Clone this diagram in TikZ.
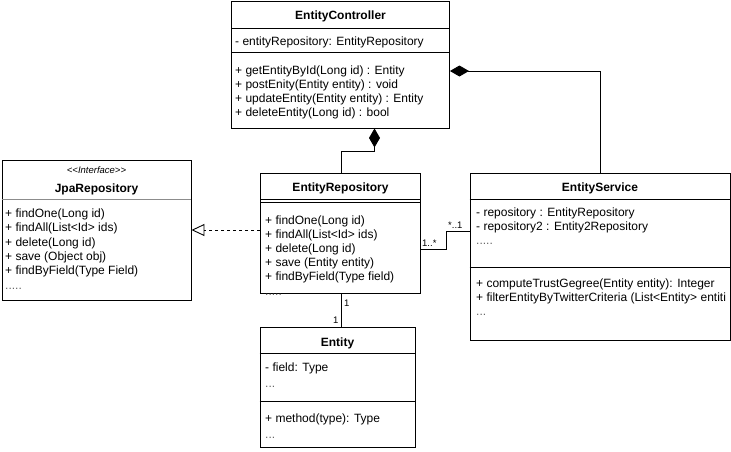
\documentclass[tikz,border=0pt]{standalone}
\usepackage{fontspec}
\setmainfont{Liberation Sans}
\usetikzlibrary{arrows.meta,calc}
\tikzset{
  box/.style={draw, line width=0.9pt, inner sep=0pt, fill=white},
  txt/.style={anchor=base west, inner sep=0pt, font=\fontsize{12}{14}\selectfont},
  ttl/.style={anchor=base, inner sep=0pt, font=\fontsize{12}{14}\selectfont\bfseries},
  dots/.style={txt, text=black!60},
  conn/.style={line width=0.9pt},
  comp/.style={conn, -{Diamond[length=19pt,width=11pt]}},
  real/.style={conn, dash pattern=on 3pt off 3pt, -{Triangle[open,length=13pt,width=12pt,line width=0.9pt]}},
  lbl/.style={inner sep=0pt, font=\fontsize{9.5}{10}\selectfont}
}
\begin{document}
\begin{tikzpicture}[x=1pt,y=-1pt]
\useasboundingbox (0,0) rectangle (731,451);
% boxes
\node[box, minimum width=218, minimum height=127] (ctrl) at (340.5,64.5) {};
\node[box, minimum width=189, minimum height=140] (jpa) at (96.5,230) {};
\node[box, minimum width=160, minimum height=120] (repo) at (340.5,233) {};
\node[box, minimum width=260, minimum height=167] (serv) at (600,256.5) {};
\node[box, minimum width=155, minimum height=120] (ent) at (337.5,387) {};
% separators
\draw[conn] (ctrl.west |- 0,28) -- (ctrl.east |- 0,28);
\draw[conn] (ctrl.west |- 0,52) -- (ctrl.east |- 0,52);
\draw[conn, black!45] (jpa.west |- 0,199) -- (jpa.east |- 0,199);
\draw[conn] (repo.west |- 0,199) -- (repo.east |- 0,199);
\draw[conn] (repo.west |- 0,202.5) -- (repo.east |- 0,202.5);
\draw[conn] (serv.west |- 0,199) -- (serv.east |- 0,199);
\draw[conn] (serv.west |- 0,267) -- (serv.east |- 0,267);
\draw[conn] (ent.west |- 0,353) -- (ent.east |- 0,353);
\draw[conn] (ent.west |- 0,401) -- (ent.east |- 0,401);
% EntityController
\node[ttl] (ctrlT) at (340.5,19) {EntityController};
\node[txt] (ctrlA) at (235,45) {- entityRepository: EntityRepository};
\node[txt] (ctrlM1) at (235,74) {+ getEntityById(Long id) : Entity};
\node[txt] (ctrlM2) at (235,88) {+ postEnity(Entity entity) : void};
\node[txt] (ctrlM3) at (235,102) {+ updateEntity(Entity entity) : Entity};
\node[txt] (ctrlM4) at (235,116) {+ deleteEntity(Long id) : bool};
% JpaRepository
\node[anchor=base, inner sep=0pt, font=\fontsize{9.5}{10}\selectfont\itshape] (jpaS) at (96.5,173.5) {<{}<Interface>{}>};
\node[ttl] (jpaT) at (96.5,192) {JpaRepository};
\node[txt] (jpaM1) at (5,217) {+ findOne(Long id)};
\node[txt] (jpaM2) at (5,231) {+ findAll(List<Id> ids)};
\node[txt] (jpaM3) at (5,246) {+ delete(Long id)};
\node[txt] (jpaM4) at (5,260) {+ save (Object obj)};
\node[txt] (jpaM5) at (5,274) {+ findByField(Type Field)};
\node[dots] (jpaD) at (5,289) {.....};
% EntityRepository
\node[ttl] (repoT) at (340.5,191) {EntityRepository};
\node[txt] (repoM1) at (265,224) {+ findOne(Long id)};
\node[txt] (repoM2) at (265,238) {+ findAll(List<Id> ids)};
\node[txt] (repoM3) at (265,252) {+ delete(Long id)};
\node[txt] (repoM4) at (265,266) {+ save (Entity entity)};
\node[txt] (repoM5) at (265,280) {+ findByField(Type field)};
\node[dots] (repoD) at (265,295) {.....};
% EntityService
\node[ttl] (servT) at (600,191) {EntityService};
\node[txt] (servA1) at (476,216) {- repository : EntityRepository};
\node[txt] (servA2) at (476,230) {- repository2 : Entity2Repository};
\node[dots] (servA3) at (476,244) {.....};
\node[txt] (servM1) at (476,287) {+ computeTrustGegree(Entity entity): Integer};
\node[txt] (servM2) at (476,301) {+ filterEntityByTwitterCriteria (List<Entity> entiti};
\node[dots] (servM3) at (476,315) {...};
% Entity
\node[ttl] (entT) at (337.5,346) {Entity};
\node[txt] (entA1) at (265,371) {- field: Type};
\node[dots] (entA2) at (265,387) {...};
\node[txt] (entM1) at (265,422) {+ method(type): Type};
\node[dots] (entM2) at (265,438) {...};
% connectors
\draw[comp] ([xshift=1pt]repo.north) -- ++(0,-21) -| ([xshift=34pt]ctrl.south);
\draw[comp] (serv.north) |- ($(ctrl.east)+(0,6.5)$);
\draw[conn] ($(repo.east)+(0,16)$) -- ++(25,0) |- ($(serv.west)+(0,-25.5)$);
\draw[real] (jpa.east -| repo.west) -- (jpa.east);
\draw[conn] ([xshift=1pt]repo.south) -- ([xshift=1pt]repo.south |- ent.north);
% multiplicities
\node[lbl, anchor=base west] (m1) at (422,246) {1..*};
\node[lbl, anchor=base west] (m2) at (448,228) {*..1};
\node[lbl, anchor=base west] (m3) at (344,306) {1};
\node[lbl, anchor=base west] (m4) at (333,323) {1};
\end{tikzpicture}
\end{document}
